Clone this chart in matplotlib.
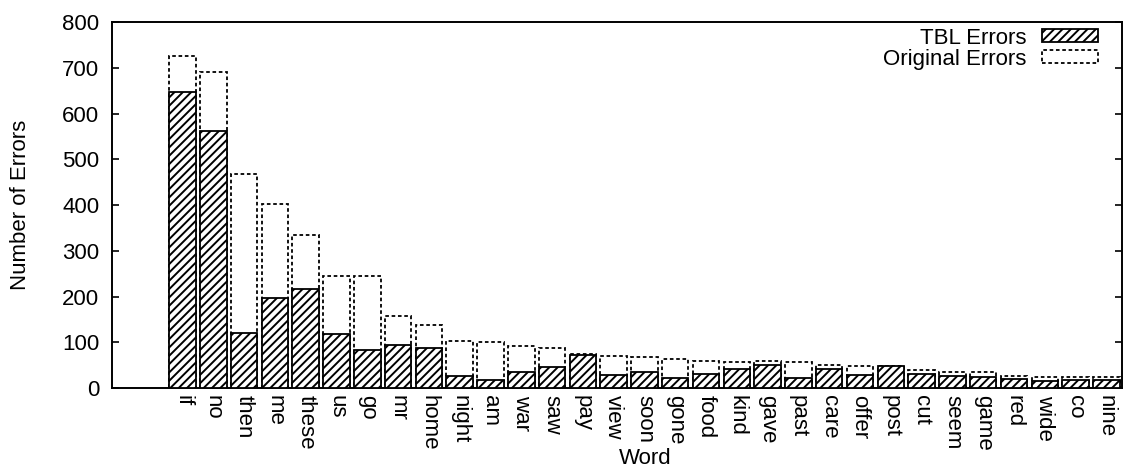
import matplotlib
matplotlib.use('Agg')
import matplotlib.pyplot as plt
from matplotlib.patches import Patch
import numpy as np

plt.rcParams['font.family'] = ['Liberation Sans', 'DejaVu Sans']
plt.rcParams['hatch.linewidth'] = 1.4

words = ['if', 'no', 'then', 'me', 'these', 'us', 'go', 'mr', 'home', 'night',
         'am', 'war', 'saw', 'pay', 'view', 'soon', 'gone', 'food', 'kind', 'gave',
         'past', 'care', 'offer', 'post', 'cut', 'seem', 'game', 'red', 'wide', 'co',
         'nine']
original_errors = [726, 690, 468, 402, 334, 244, 246, 158, 138, 102,
                   100, 92, 87, 75, 69, 67, 63, 60, 57, 60,
                   57, 51, 47, 47, 40, 36, 35, 27, 23, 24,
                   24]
tbl_errors = [648, 562, 120, 196, 217, 118, 84, 95, 88, 27,
              18, 35, 46, 72, 29, 34, 22, 30, 41, 51,
              22, 42, 29, 47, 31, 26, 23, 20, 15, 18,
              18]

fig = plt.figure(figsize=(11.4, 4.72), dpi=100)
ax = fig.add_axes([0.098, 0.178, 0.886, 0.775])

x = np.arange(len(words))
width = 0.86

# original counts as dashed outlines, tbl counts hatched on top
ax.bar(x, original_errors, width, fill=False, edgecolor='black',
       linestyle=(0, (2, 1.5)), linewidth=1.3, zorder=2)
ax.bar(x, tbl_errors, width, facecolor='white', edgecolor='black',
       hatch='////', linewidth=1.3, zorder=3)

ax.set_xlim(-2.3, 30.5)
ax.set_ylim(0, 800)
ax.set_yticks(range(0, 801, 100))
ax.set_xticks(x)
ax.set_xticklabels(words, rotation=-90, fontsize=16)
ax.tick_params(axis='x', length=0, pad=5)
ax.tick_params(axis='y', direction='in', right=True, length=5, width=1.2,
               labelsize=16, pad=9)
for s in ax.spines.values():
    s.set_linewidth(1.4)

ax.set_ylabel('Number of Errors', fontsize=16, labelpad=22)
ax.set_xlabel('Word', fontsize=16)
ax.xaxis.set_label_coords(0.528, -0.163)

handles = [
    Patch(facecolor='white', edgecolor='black', hatch='////', linewidth=1.3),
    Patch(fill=False, edgecolor='black', linestyle=(0, (2, 1.5)), linewidth=1.3),
]
ax.legend(handles, ['TBL Errors', 'Original Errors'], loc='upper right',
          bbox_to_anchor=(0.976, 0.985), frameon=False, markerfirst=False,
          fontsize=16, handlelength=2.5, handleheight=0.5, handletextpad=0.7,
          labelspacing=0.0, borderpad=0, borderaxespad=0)

fig.savefig('out.png', dpi=100)
